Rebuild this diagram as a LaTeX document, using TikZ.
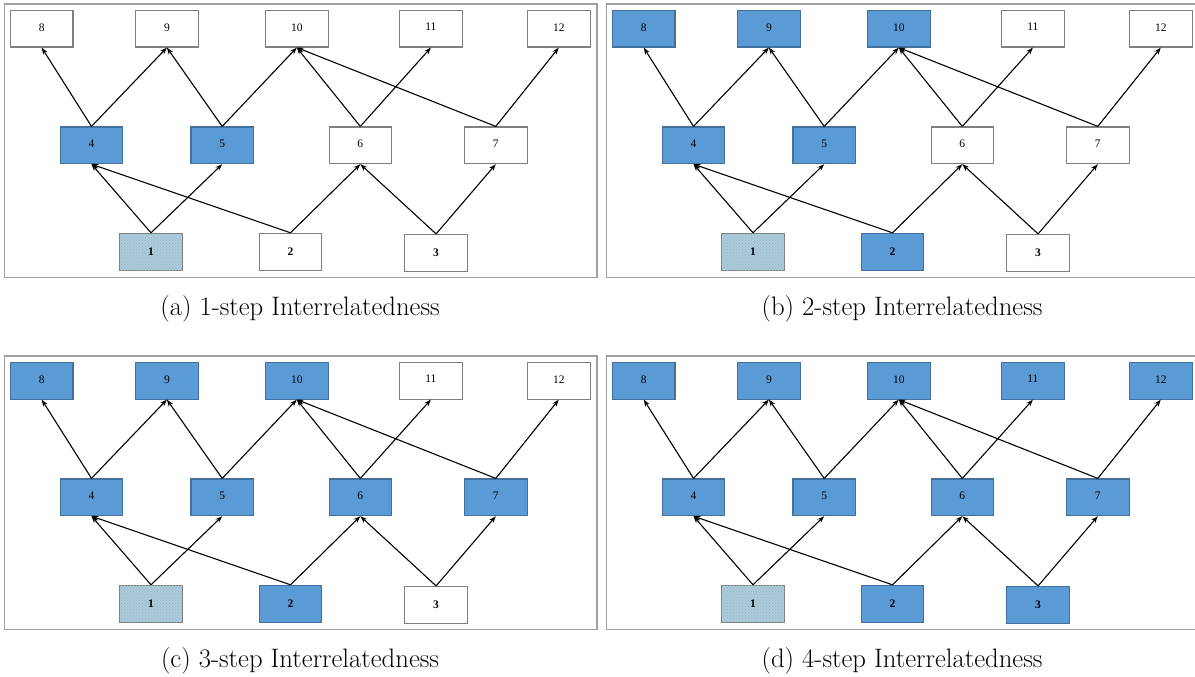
\documentclass[tikz,border=0pt]{standalone}
\usepackage{fontspec}
\newfontfamily\nodefont{Liberation Serif}
\usetikzlibrary{arrows.meta,patterns}
\definecolor{boxblue}{HTML}{5B9BD5}
\definecolor{boxblueline}{HTML}{41719C}
\definecolor{seedfill}{HTML}{ADCBDA}
\definecolor{seeddots}{HTML}{93B4C6}
\definecolor{greyline}{HTML}{7F7F7F}
\definecolor{frameline}{HTML}{A0A0A0}
\tikzset{
  box/.style={rectangle, minimum width=62.5pt, minimum height=36.7pt, inner sep=0pt,
    font=\nodefont\fontsize{11.5}{12}\selectfont, line width=1.1pt},
  boldlabel/.style={font=\nodefont\bfseries\fontsize{11.5}{12}\selectfont},
  bluebox/.style={box, fill=boxblue, draw=boxblueline},
  whitebox/.style={box, fill=white, draw=greyline},
  seedbox/.style={box, fill=seedfill, draw=greyline,
    postaction={pattern=crosshatch dots, pattern color=seeddots}},
  link/.style={-{Stealth[length=7pt,width=5pt]}, line width=1.1pt, black},
  frame/.style={draw=frameline, line width=1.4pt},
  captionstyle/.style={font=\fontsize{26.7}{31}\selectfont, inner sep=0pt}
}
\begin{document}
\begin{tikzpicture}[x=1pt,y=-1pt]
\clip (0,0) rectangle (1195,677);
\fill[white] (0,0) rectangle (1195,677);
\foreach \pn/\dx/\dy/\s/\captext in {
  a/0/0/1/{(a) 1-step Interrelatedness},
  b/602/0/2/{(b) 2-step Interrelatedness},
  c/0/352/3/{(c) 3-step Interrelatedness},
  d/602/352/4/{(d) 4-step Interrelatedness}}{
  \begin{scope}[shift={(\dx,\dy)}]
    \draw[frame] (4.6,4) rectangle (597,277.5);
    \foreach \n/\x/\y/\act in {8/41.7/28.7/2, 9/166.9/28.7/2, 10/296.8/28.7/2,
        11/430.9/28.7/4, 12/558.8/28.7/4, 4/91.5/145.3/1, 5/222.2/145.3/1,
        6/360.3/145.3/3, 7/495.8/145.3/3}{
      \ifnum\act>\s \def\st{whitebox}\else\def\st{bluebox}\fi
      \node[\st, text depth=3pt] (\pn\n) at (\x,\y) {\n};
    }
    \node[seedbox, boldlabel] (\pn1) at (151,251.7) {1};
    \ifnum\s<2 \def\st{whitebox}\else\def\st{bluebox}\fi
    \node[\st, boldlabel] (\pn2) at (290.5,251.7) {2};
    \ifnum\s<4 \def\st{whitebox}\else\def\st{bluebox}\fi
    \node[\st, boldlabel] (\pn3) at (436.1,252.8) {3};
    \foreach \u/\v in {1/4, 1/5, 2/4, 2/6, 3/6, 3/7, 4/8, 4/9, 5/9, 5/10,
        6/10, 6/11, 7/10, 7/12}{
      \draw[link] (\pn\u.north) -- (\pn\v.south);
    }
    \node[captionstyle] (\pn cap) at (300,308.5) {\captext};
  \end{scope}
}
\end{tikzpicture}
\end{document}
